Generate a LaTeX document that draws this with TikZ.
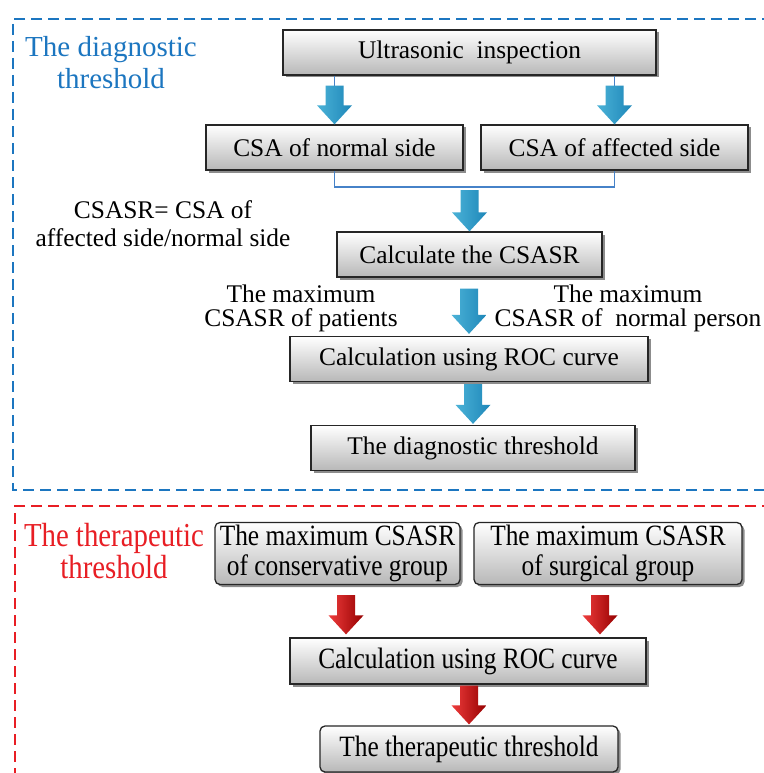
\documentclass[tikz,border=0pt]{standalone}
\usepackage{fontspec}
\setmainfont{Liberation Serif}
\newfontfamily\narrowserif[FakeStretch=0.86]{Liberation Serif}
\usepackage{tikz}
\usetikzlibrary{positioning, calc, shadows}
\definecolor{diagblue}{RGB}{28, 118, 192}
\definecolor{therred}{RGB}{232, 30, 36}
\definecolor{linkblue}{RGB}{70, 130, 200}
\definecolor{arrowblueA}{RGB}{75, 178, 215}
\definecolor{arrowblueB}{RGB}{150, 220, 242}
\definecolor{arrowblueC}{RGB}{30, 135, 185}
\definecolor{arrowredA}{RGB}{238, 60, 60}
\definecolor{arrowredB}{RGB}{215, 20, 20}
\definecolor{arrowredC}{RGB}{150, 0, 0}
\newcommand{\boxfont}{\fontsize{25.4}{28}\selectfont}
\newcommand{\groupfont}{\narrowserif\fontsize{29.5}{30}\selectfont}
% block arrow from #2 down to the tip #3
\newcommand{\blockarrow}[3]{%
  \shade[#1] let \p1=#2, \p2=#3 in
    (\x2-9pt,\y1) -- (\x2+9pt,\y1) -- (\x2+9pt,\y2+19pt) -- (\x2+17.5pt,\y2+19pt)
    -- (\x2,\y2) -- (\x2-17.5pt,\y2+19pt) -- (\x2-9pt,\y2+19pt) -- cycle;}

\begin{document}
\begin{tikzpicture}[x=1pt, y=-1pt,
    procbox/.style={draw=black!85, line width=1.3pt, top color=white, bottom color=black!28,
      minimum height=45, inner sep=2pt, align=center, font=\boxfont,
      drop shadow={shadow xshift=2.5pt, shadow yshift=-2.5pt, opacity=.45, fill=black}},
    groupbox/.style={procbox, rounded corners=5pt, font=\groupfont},
    bluearrow/.style={left color=arrowblueA, middle color=arrowblueB, right color=arrowblueC},
    redarrow/.style={left color=arrowredA, middle color=arrowredB, right color=arrowredC},
    linkline/.style={draw=linkblue, line width=1.2pt},
    frame/.style={line width=2.9pt, dash pattern=on 11pt off 6pt}]
    \path[fill=white, use as bounding box] (0,0) rectangle (763,773);

    % section frames
    \draw[frame, diagblue] (790,19) -- (13,19) -- (13,490) -- (790,490);
    \draw[frame, therred] (790,506) -- (15,506) -- (15,800);

    \node[text=diagblue, align=center, font=\fontsize{29}{32}\selectfont] (diaglabel) at (111,63) {The diagnostic\\threshold};
    \node[text=therred, align=center, font=\narrowserif\fontsize{33.5}{32}\selectfont] (therlabel) at (114,551) {The therapeutic\\threshold};

    % diagnostic threshold
    \node[procbox, minimum width=373] (ultra) at (469.5,52.5) {Ultrasonic\ \ inspection};
    \node[procbox, minimum width=257] (normal) at (334.5,147.5) {CSA of normal side};
    \node[procbox, minimum width=267] (affected) at (614.5,147.5) {CSA of affected side};
    \node[procbox, minimum width=265] (ratio) at (469.5,254.5) {Calculate the CSASR};
    \node[procbox, minimum width=358] (rocdiag) at (469,359) {Calculation using ROC curve};
    \node[procbox, minimum width=324] (diag) at (473,448) {The diagnostic threshold};

    \node[align=center, font=\fontsize{25.4}{28}\selectfont] (ratiolabel) at (163,224) {CSASR= CSA of\\affected side/normal side};
    \node[align=center, font=\fontsize{25.4}{24}\selectfont] (patlabel) at (301,308) {The maximum\\CSASR of patients};
    \node[align=center, font=\fontsize{25.4}{24}\selectfont] (normlabel) at (628,308) {The maximum\\CSASR of\ \ normal person};

    \coordinate (merge) at (469.5,187);
    \draw[linkline] (ultra.south -| normal.north) -- (normal.north);
    \draw[linkline] (ultra.south -| affected.north) -- (affected.north);
    \draw[linkline] (normal.south) |- (merge) -| (affected.south);
    \blockarrow{bluearrow}{($(ultra.south -| normal.north)+(0,10)$)}{(normal.north)}
    \blockarrow{bluearrow}{($(ultra.south -| affected.north)+(0,10)$)}{(affected.north)}
    \blockarrow{bluearrow}{($(merge)+(0,3)$)}{(ratio.north)}
    \blockarrow{bluearrow}{($(ratio.south)+(0,11)$)}{($(rocdiag.north)+(0,-2)$)}
    \blockarrow{bluearrow}{($(rocdiag.south)+(0,2)$)}{($(diag.north)+(0,-1)$)}

    % therapeutic threshold
    \node[groupbox, minimum width=245, minimum height=62] (consgrp) at (337.5,553.5) {The maximum CSASR\\of conservative group};
    \node[groupbox, minimum width=268, minimum height=62] (surggrp) at (608,553.5) {The maximum CSASR\\of surgical group};
    \node[procbox, font=\groupfont, minimum width=356, minimum height=46] (rocther) at (468,661) {Calculation using ROC curve};
    \node[groupbox, minimum width=298, minimum height=46] (ther) at (469,749) {The therapeutic threshold};

    \blockarrow{redarrow}{($(consgrp.south -| 346,0)+(0,10)$)}{($(rocther.north -| 346,0)+(0,-3)$)}
    \blockarrow{redarrow}{($(surggrp.south -| 600,0)+(0,10)$)}{($(rocther.north -| 600,0)+(0,-3)$)}
    \blockarrow{redarrow}{($(rocther.south)+(0,1)$)}{($(ther.north)+(0,-1)$)}
\end{tikzpicture}
\end{document}
